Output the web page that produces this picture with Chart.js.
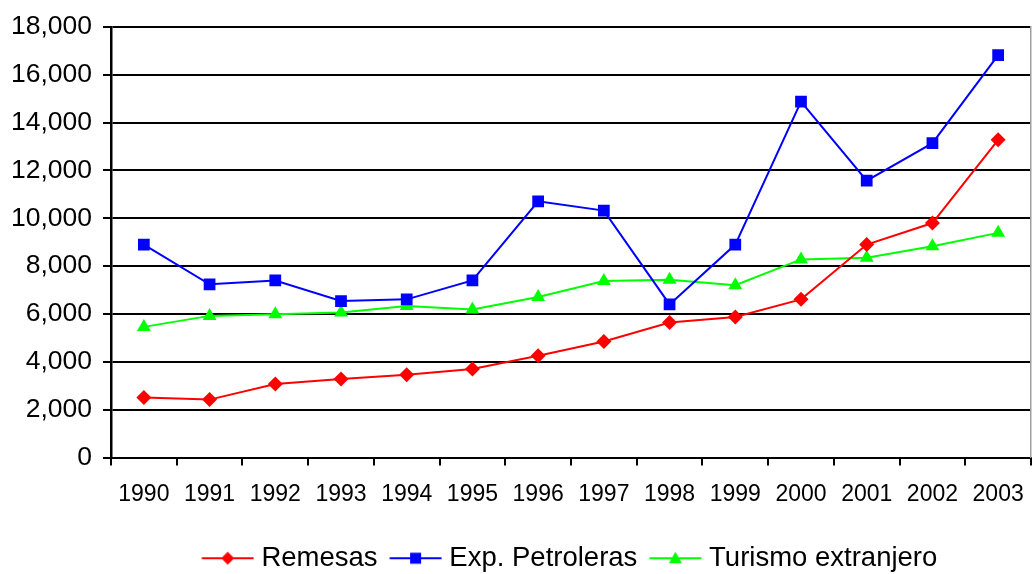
<!DOCTYPE html>
<html>
<head>
<meta charset="utf-8">
<script src="https://cdn.jsdelivr.net/npm/chart.js@4.4.1/dist/chart.umd.min.js"></script>
<style>
  html, body { margin: 0; padding: 0; background: #fff; }
  #wrap { width: 1032px; height: 574px; position: relative; }
</style>
</head>
<body>
<div id="wrap"><canvas id="c" width="1032" height="574"></canvas></div>
<script>
const years = ['1990','1991','1992','1993','1994','1995','1996','1997','1998','1999','2000','2001','2002','2003'];
const remesas = [2510, 2420, 3070, 3280, 3460, 3700, 4250, 4850, 5640, 5875, 6610, 8900, 9800, 13280];
const expPetroleras = [8900, 7240, 7400, 6540, 6610, 7400, 10710, 10320, 6400, 8900, 14875, 11570, 13140, 16820];
const turismo = [5460, 5920, 5990, 6060, 6330, 6190, 6710, 7375, 7430, 7200, 8280, 8350, 8830, 9390];
const seriesNames = ['Remesas', 'Exp. Petroleras', 'Turismo extranjero'];
const yTicks = [0, 2000, 4000, 6000, 8000, 10000, 12000, 14000, 16000, 18000];

const FONT = "'Liberation Sans', Arial, sans-serif";

// legend swatch: short line with the series marker in its middle
function legendImage(color, shape) {
  const cv = document.createElement('canvas');
  cv.width = 68; cv.height = 20;
  const g = cv.getContext('2d');
  g.strokeStyle = color; g.lineWidth = 2;
  g.beginPath(); g.moveTo(15.5, 10); g.lineTo(67.5, 10); g.stroke();
  g.fillStyle = color;
  const cx = 41.5;
  g.beginPath();
  if (shape === 'diamond') {
    g.moveTo(cx, 3.5); g.lineTo(cx + 6.5, 10); g.lineTo(cx, 16.5); g.lineTo(cx - 6.5, 10); g.closePath();
  } else if (shape === 'square') {
    g.rect(cx - 5.5, 4.5, 11, 11);
  } else {
    g.moveTo(cx, 3.5); g.lineTo(cx + 6.5, 15); g.lineTo(cx - 6.5, 15); g.closePath();
  }
  g.fill();
  return cv;
}
const legendImgs = [legendImage('#ff0000','diamond'), legendImage('#0000ff','square'), legendImage('#00ff00','triangle')];

const legendShift = {
  id: 'legendShift',
  afterLayout(chart) {
    if (chart.legend) { chart.legend.left += 49; chart.legend.right += 49; }
  }
};

new Chart(document.getElementById('c'), {
  type: 'line',
  data: {
    labels: years,
    datasets: [
      { label: seriesNames[0], data: remesas, borderColor: '#ff0000', backgroundColor: '#ff0000',
        pointStyle: 'rectRot', pointRadius: 7.5, pointHoverRadius: 7.5, borderWidth: 2, pointBorderWidth: 0 },
      { label: seriesNames[1], data: expPetroleras, borderColor: '#0000ff', backgroundColor: '#0000ff',
        pointStyle: 'rect', pointRadius: 8.3, pointHoverRadius: 8.3, borderWidth: 2, pointBorderWidth: 0 },
      { label: seriesNames[2], data: turismo, borderColor: '#00ff00', backgroundColor: '#00ff00',
        pointStyle: 'triangle', pointRadius: 8, pointHoverRadius: 8, borderWidth: 2, pointBorderWidth: 0 }
    ]
  },
  plugins: [legendShift],
  options: {
    responsive: false,
    animation: false,
    layout: { autoPadding: false, padding: { top: 25, right: 0, left: 0, bottom: -8 } },
    plugins: {
      tooltip: { enabled: false },
      legend: {
        position: 'bottom',
        labels: {
          usePointStyle: true,
          pointStyleWidth: 55,
          padding: 3,
          color: '#000',
          font: { family: FONT, size: 27.5 },
          generateLabels(chart) {
            return chart.data.datasets.map((ds, i) => ({
              text: ds.label, pointStyle: legendImgs[i], fillStyle: ds.borderColor,
              strokeStyle: ds.borderColor, lineWidth: 0, hidden: false, datasetIndex: i, fontColor: '#000'
            }));
          }
        }
      }
    },
    scales: {
      x: {
        type: 'category',
        offset: true,
        grid: { display: true, offset: true, drawOnChartArea: false, drawTicks: true, tickLength: 8, color: '#000', lineWidth: 2 },
        border: { display: true, color: '#000', width: 2 },
        ticks: { color: '#000', font: { family: FONT, size: 23 }, padding: 15, maxRotation: 0, autoSkip: false },
        afterFit(scale) { scale.height = 84; scale.paddingLeft = 0; scale.paddingRight = 0; }
      },
      y: {
        min: 0, max: 18000,
        afterBuildTicks(scale) { scale.ticks = yTicks.map(v => ({ value: v })); },
        grid: { color: '#000', lineWidth: 2, tickLength: 8, drawTicks: true },
        border: { display: true, color: '#000', width: 2.5 },
        ticks: {
          color: '#000', font: { family: FONT, size: 26.5 }, padding: 11,
          callback: v => Number(v).toLocaleString('en-US')
        },
        afterFit(scale) { scale.width = 111; }
      },
      yRight: {
        position: 'right',
        min: 0, max: 18000,
        grid: { drawOnChartArea: false, drawTicks: false },
        border: { display: true, color: '#a0a0a0', width: 1.5 },
        ticks: { display: false },
        afterFit(scale) { scale.width = 1; }
      }
    }
  }
});
</script>
</body>
</html>
